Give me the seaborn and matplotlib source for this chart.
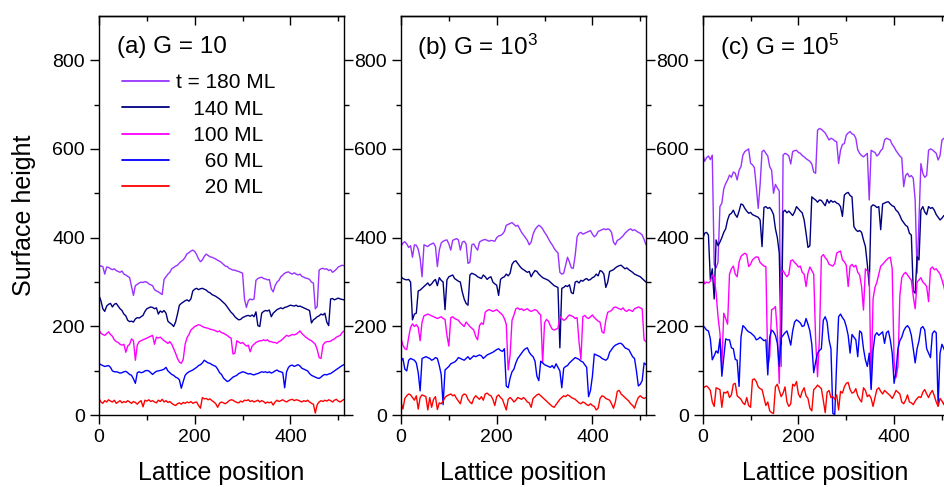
import numpy as np
import pandas as pd
import matplotlib
matplotlib.use("Agg")
import matplotlib.pyplot as plt
import seaborn as sns
from matplotlib.lines import Line2D
from matplotlib.ticker import FixedLocator

# lattice sites at which the surface profiles are sampled
lattice = np.arange(0, 513, 4)
times = ["180", "140", "100", "60", "20"]
legend_labels = ["t = 180 ML", "   140 ML", "   100 ML", "     60 ML", "     20 ML"]
colors = {"180": "#9932FF", "140": "#000080", "100": "#FF00FF",
          "60": "#0000FF", "20": "#FF0000"}
panel_titles = ["(a) G = 10", "(b) G = 10$^{3}$", "(c) G = 10$^{5}$"]
x_ticks = [0, 200, 400]
y_ticks = [0, 200, 400, 600, 800]

# ---- (a) G = 10 ----
a180 = [338, 336, 335, 318, 334, 333, 330, 328, 330, 326, 324, 322, 325, 318, 316, 313,
        310, 290, 270, 292, 295, 298, 300, 299, 301, 300, 296, 294, 292, 283, 280, 278,
        275, 272, 306, 312, 318, 322, 330, 333, 336, 338, 343, 347, 350, 356, 364, 366,
        370, 372, 369, 362, 352, 346, 350, 358, 363, 360, 357, 356, 354, 352, 349, 347,
        344, 340, 336, 335, 331, 329, 327, 327, 325, 324, 322, 320, 262, 243, 258, 262,
        260, 262, 304, 308, 310, 311, 308, 307, 305, 306, 285, 278, 292, 300, 304, 312,
        316, 320, 322, 323, 320, 318, 321, 318, 316, 318, 313, 311, 309, 308, 306, 300,
        298, 240, 245, 327, 330, 331, 329, 330, 326, 328, 322, 325, 329, 334, 336, 338,
        337]
a140 = [270, 258, 240, 234, 246, 250, 252, 244, 250, 252, 246, 240, 236, 228, 224, 214,
        211, 212, 210, 217, 220, 219, 222, 225, 234, 240, 242, 244, 243, 240, 242, 228,
        235, 232, 236, 230, 212, 208, 205, 200, 210, 228, 248, 252, 255, 258, 260, 257,
        262, 280, 284, 286, 283, 285, 286, 284, 282, 278, 276, 272, 270, 268, 265, 262,
        258, 254, 250, 244, 238, 232, 228, 222, 218, 215, 216, 220, 222, 224, 225, 223,
        226, 222, 233, 202, 200, 230, 234, 236, 235, 237, 222, 230, 234, 238, 240, 242,
        240, 243, 244, 246, 248, 247, 246, 248, 245, 246, 244, 242, 240, 238, 236, 208,
        215, 218, 222, 224, 228, 226, 230, 210, 202, 262, 263, 260, 262, 264, 262, 261,
        260]
a100 = [192, 185, 182, 180, 184, 188, 182, 178, 170, 166, 164, 160, 158, 160, 142, 156,
        160, 172, 168, 124, 158, 166, 168, 170, 172, 174, 176, 178, 180, 160, 176, 174,
        176, 172, 168, 165, 162, 166, 160, 150, 140, 128, 120, 117, 126, 160, 175, 182,
        192, 196, 200, 202, 204, 203, 200, 198, 197, 196, 194, 193, 192, 190, 188, 190,
        186, 185, 182, 180, 176, 174, 138, 140, 168, 165, 162, 164, 160, 156, 158, 143,
        156, 160, 164, 166, 168, 168, 170, 168, 170, 166, 166, 164, 164, 162, 166, 168,
        172, 176, 180, 178, 180, 182, 181, 183, 186, 190, 184, 180, 176, 173, 170, 168,
        164, 160, 148, 130, 128, 158, 164, 166, 166, 167, 170, 172, 176, 178, 180, 186,
        190]
a60 = [117, 114, 112, 110, 111, 112, 108, 100, 98, 98, 97, 95, 96, 98, 99, 96,
       92, 90, 82, 72, 96, 98, 96, 97, 100, 101, 100, 96, 92, 96, 99, 100,
       101, 102, 104, 108, 100, 96, 92, 90, 86, 84, 80, 61, 76, 90, 95, 98,
       100, 102, 105, 108, 112, 114, 118, 124, 121, 118, 117, 114, 112, 110, 104, 96,
       92, 84, 80, 76, 78, 82, 86, 88, 90, 94, 96, 98, 97, 95, 93, 94,
       92, 91, 93, 94, 96, 98, 97, 98, 96, 98, 95, 97, 100, 102, 99, 98,
       96, 62, 98, 108, 112, 113, 110, 112, 114, 111, 106, 104, 102, 100, 94, 90,
       88, 86, 84, 83, 86, 90, 92, 91, 93, 94, 97, 100, 103, 106, 109, 112,
       114]
a20 = [38, 30, 27, 33, 30, 35, 32, 30, 34, 27, 30, 33, 28, 31, 29, 33,
       30, 27, 31, 29, 25, 30, 33, 19, 34, 32, 35, 31, 33, 30, 28, 34,
       31, 36, 30, 33, 29, 31, 27, 24, 22, 26, 28, 25, 29, 27, 30, 28,
       31, 27, 29, 30, 22, 16, 40, 37, 38, 35, 37, 33, 30, 26, 18, 27,
       30, 28, 26, 29, 33, 35, 34, 31, 29, 28, 32, 30, 34, 33, 35, 31,
       33, 30, 32, 34, 30, 33, 31, 27, 30, 28, 30, 23, 30, 34, 31, 33,
       35, 32, 30, 33, 35, 36, 33, 35, 34, 32, 30, 33, 31, 34, 30, 27,
       25, 5, 24, 30, 33, 31, 34, 32, 35, 33, 30, 34, 36, 32, 30, 33,
       36]

# ---- (b) G = 10^3 ----
b180 = [380, 388, 391, 386, 378, 382, 356, 384, 383, 374, 353, 312, 384, 382, 380, 384,
        386, 388, 380, 335, 372, 388, 392, 394, 395, 386, 372, 394, 396, 398, 395, 372,
        390, 392, 386, 342, 345, 384, 386, 378, 372, 390, 393, 395, 396, 394, 392, 394,
        393, 392, 400, 404, 405, 408, 414, 428, 430, 432, 434, 430, 426, 428, 420, 412,
        406, 400, 394, 384, 390, 408, 418, 424, 428, 425, 420, 412, 406, 398, 390, 384,
        376, 370, 366, 322, 318, 320, 338, 356, 345, 332, 331, 360, 402, 410, 412, 408,
        410, 412, 414, 416, 408, 402, 406, 414, 416, 418, 420, 418, 420, 418, 412, 390,
        384, 394, 396, 400, 404, 410, 414, 418, 420, 416, 418, 415, 412, 410, 406, 396,
        384]
b140 = [312, 308, 306, 305, 306, 300, 215, 228, 230, 280, 282, 286, 290, 294, 298, 292,
        296, 302, 306, 292, 310, 304, 300, 238, 305, 312, 314, 316, 308, 305, 302, 300,
        278, 262, 252, 248, 316, 320, 318, 316, 312, 310, 308, 316, 312, 306, 310, 312,
        300, 296, 293, 270, 306, 310, 312, 318, 314, 320, 340, 346, 348, 342, 336, 331,
        328, 325, 322, 324, 312, 320, 326, 324, 318, 314, 310, 308, 306, 304, 300, 296,
        292, 290, 288, 152, 286, 288, 292, 290, 294, 276, 274, 300, 302, 298, 304, 302,
        306, 308, 304, 306, 310, 312, 318, 314, 326, 324, 318, 288, 300, 324, 326, 328,
        332, 335, 337, 338, 334, 330, 332, 328, 325, 322, 318, 316, 314, 312, 308, 304,
        300]
b100 = [173, 158, 150, 148, 176, 198, 206, 200, 204, 198, 168, 210, 224, 226, 228, 226,
        224, 222, 220, 218, 220, 222, 218, 216, 180, 156, 220, 222, 218, 216, 214, 208,
        204, 200, 210, 205, 200, 196, 192, 178, 170, 202, 208, 205, 232, 236, 238, 236,
        234, 236, 238, 234, 230, 226, 218, 205, 102, 136, 214, 226, 240, 242, 238, 240,
        236, 238, 240, 236, 234, 236, 238, 236, 230, 226, 118, 208, 216, 212, 202, 194,
        192, 194, 196, 222, 218, 214, 216, 222, 226, 224, 222, 218, 220, 166, 126, 222,
        225, 220, 218, 222, 226, 220, 216, 212, 210, 188, 185, 214, 232, 234, 236, 242,
        244, 242, 240, 238, 242, 236, 234, 238, 236, 234, 240, 242, 244, 242, 240, 170,
        166]
b60 = [122, 128, 104, 100, 124, 128, 126, 124, 118, 96, 55, 128, 130, 132, 130, 128,
       124, 126, 130, 128, 112, 92, 24, 102, 106, 110, 116, 118, 120, 124, 130, 128,
       126, 124, 128, 132, 126, 130, 134, 132, 134, 136, 134, 128, 132, 136, 138, 140,
       142, 145, 148, 150, 146, 144, 150, 66, 62, 84, 98, 104, 118, 128, 134, 140,
       146, 150, 152, 142, 136, 132, 122, 88, 78, 122, 118, 114, 112, 110, 108, 112,
       106, 116, 108, 100, 62, 106, 110, 112, 118, 122, 126, 130, 128, 126, 122, 120,
       114, 108, 42, 56, 88, 138, 136, 134, 132, 128, 126, 124, 128, 142, 148, 154,
       158, 160, 162, 162, 158, 152, 150, 148, 140, 132, 128, 100, 66, 70, 78, 118,
       114]
b20 = [30, 14, 38, 44, 48, 46, 40, 34, 44, 14, 40, 46, 44, 42, 12, 40,
       18, 36, 42, 13, 28, 26, 32, 40, 44, 46, 48, 44, 46, 38, 32, 26,
       44, 48, 46, 36, 30, 26, 38, 44, 40, 36, 42, 34, 48, 50, 46, 44,
       36, 22, 42, 46, 40, 36, 24, 12, 36, 40, 36, 30, 34, 40, 38, 36,
       40, 36, 30, 28, 18, 38, 42, 46, 48, 44, 40, 36, 32, 28, 24, 20,
       18, 24, 30, 36, 40, 44, 42, 46, 44, 40, 38, 36, 32, 28, 26, 30,
       28, 24, 22, 26, 22, 20, 12, 16, 38, 44, 42, 38, 36, 34, 26, 16,
       30, 54, 56, 48, 44, 40, 36, 32, 26, 22, 16, 30, 40, 44, 40, 38,
       40]

# ---- (c) G = 10^5 ----
c180 = [590, 572, 580, 584, 576, 586, 340, 332, 345, 470, 478, 510, 522, 530, 541, 536,
        548, 545, 530, 552, 560, 586, 594, 597, 600, 568, 564, 558, 515, 466, 520, 594,
        597, 590, 584, 560, 552, 500, 520, 512, 505, 110, 586, 590, 588, 584, 566, 594,
        596, 597, 592, 590, 585, 582, 578, 575, 572, 566, 548, 545, 642, 646, 644, 640,
        636, 628, 620, 624, 622, 618, 616, 567, 597, 610, 612, 631, 636, 639, 634, 632,
        624, 598, 590, 585, 582, 586, 590, 485, 597, 594, 592, 584, 588, 596, 600, 620,
        624, 622, 620, 610, 604, 596, 590, 584, 580, 515, 540, 545, 537, 540, 534, 485,
        320, 440, 567, 545, 536, 540, 597, 600, 598, 594, 590, 575, 585, 620, 624, 618,
        622]
c140 = [398, 410, 412, 406, 305, 330, 262, 395, 382, 390, 400, 412, 420, 440, 452, 455,
        462, 452, 446, 460, 476, 474, 466, 460, 455, 457, 452, 450, 448, 446, 440, 380,
        468, 470, 466, 468, 462, 452, 420, 400, 365, 160, 458, 462, 456, 460, 455, 450,
        458, 470, 465, 460, 456, 440, 410, 378, 382, 492, 488, 485, 480, 485, 484, 478,
        472, 486, 478, 484, 480, 482, 478, 476, 470, 448, 496, 500, 502, 495, 492, 425,
        418, 414, 416, 412, 395, 380, 340, 292, 470, 474, 472, 468, 470, 418, 476, 478,
        480, 481, 476, 472, 470, 462, 458, 450, 440, 434, 428, 425, 410, 406, 280, 275,
        357, 350, 462, 470, 458, 452, 470, 466, 468, 462, 452, 446, 440, 444, 450, 448,
        452]
c100 = [310, 296, 300, 298, 302, 316, 312, 275, 222, 185, 110, 230, 218, 205, 318, 330,
        336, 318, 312, 345, 358, 362, 365, 362, 335, 340, 350, 354, 357, 356, 344, 340,
        336, 335, 110, 132, 238, 240, 245, 185, 72, 320, 326, 318, 312, 318, 348, 350,
        344, 340, 334, 336, 322, 318, 290, 320, 334, 326, 318, 170, 87, 175, 357, 362,
        355, 350, 340, 338, 336, 342, 365, 368, 370, 350, 346, 338, 290, 336, 340, 334,
        338, 322, 316, 290, 237, 330, 325, 320, 62, 262, 288, 300, 318, 336, 340, 345,
        350, 354, 356, 330, 120, 85, 110, 270, 310, 318, 322, 316, 310, 304, 268, 240,
        300, 305, 310, 300, 296, 290, 256, 330, 334, 328, 330, 324, 318, 305, 290, 270,
        285]
c60 = [203, 198, 192, 190, 172, 125, 134, 145, 140, 172, 88, 130, 172, 170, 170, 152,
       150, 126, 124, 65, 176, 202, 198, 192, 188, 186, 182, 178, 170, 172, 176, 172,
       168, 170, 91, 176, 192, 188, 180, 162, 110, 175, 180, 186, 190, 175, 158, 190,
       210, 215, 212, 208, 200, 202, 218, 205, 190, 160, 96, 120, 140, 146, 150, 214,
       222, 210, 170, 150, 4, 2, 120, 222, 228, 220, 214, 200, 180, 140, 182, 176,
       170, 132, 190, 186, 150, 125, 110, 140, 58, 146, 180, 186, 180, 184, 188, 162,
       186, 190, 170, 140, 72, 100, 150, 168, 176, 190, 198, 202, 196, 180, 150, 118,
       150, 168, 196, 200, 192, 150, 140, 130, 184, 190, 186, 22, 140, 160, 150, 140,
       160]
c20 = [60, 64, 66, 62, 56, 30, 20, 62, 60, 58, 18, 52, 50, 54, 40, 46,
       70, 72, 44, 40, 36, 28, 24, 40, 22, 18, 80, 82, 76, 64, 60, 58,
       40, 22, 30, 10, 6, 4, 64, 70, 56, 42, 50, 64, 30, 20, 26, 70,
       66, 76, 48, 40, 54, 62, 44, 38, 16, 10, 58, 62, 68, 64, 60, 34,
       6, 52, 56, 40, 42, 36, 46, 12, 54, 50, 64, 72, 74, 58, 50, 52,
       60, 44, 36, 30, 62, 56, 42, 46, 38, 20, 40, 58, 62, 54, 48, 56,
       52, 48, 44, 38, 46, 56, 52, 48, 30, 26, 34, 46, 30, 28, 24, 32,
       38, 42, 40, 52, 58, 48, 40, 50, 56, 44, 30, 20, 38, 32, 24, 40,
       36]

panels = [
    {"180": a180, "140": a140, "100": a100, "60": a60, "20": a20},
    {"180": b180, "140": b140, "100": b100, "60": b60, "20": b20},
    {"180": c180, "140": c140, "100": c100, "60": c60, "20": c20},
]

sns.set_style("ticks")
plt.rcParams["font.family"] = ["Liberation Sans", "DejaVu Sans"]
plt.rcParams["mathtext.default"] = "regular"
plt.rcParams["axes.linewidth"] = 1.0
for key in ("text.color", "axes.labelcolor", "xtick.color", "ytick.color",
            "axes.edgecolor"):
    plt.rcParams[key] = "black"

fig = plt.figure(figsize=(9.45, 4.87), dpi=100)
bottom, height, width = 0.14723, 0.82053, 0.25926
lefts = [0.10476, 0.42434, 0.74360]
title_x = [0.0735, 0.0665, 0.0706]

axes = []
for k, profiles in enumerate(panels):
    ax = fig.add_axes([lefts[k], bottom, width, height])
    df = pd.DataFrame({
        "pos": np.tile(lattice, len(times)),
        "height": np.concatenate([profiles[t] for t in times]),
        "t": np.repeat(times, len(lattice)),
    })
    sns.lineplot(data=df, x="pos", y="height", hue="t", hue_order=times,
                 palette=colors, estimator=None, sort=False, lw=1.0,
                 legend=False, ax=ax)
    ax.set_xlim(0, 512)
    ax.set_ylim(0, 900)
    ax.xaxis.set_major_locator(FixedLocator(x_ticks))
    ax.xaxis.set_minor_locator(FixedLocator([100, 300, 500]))
    ax.yaxis.set_major_locator(FixedLocator(y_ticks))
    ax.yaxis.set_minor_locator(FixedLocator([100, 300, 500, 700]))
    ax.tick_params(axis="both", which="major", direction="out", length=6.5,
                   width=1.0, labelsize=14, pad=3.5, colors="black")
    ax.tick_params(axis="both", which="minor", direction="out", length=3.5,
                   width=1.0)
    ax.tick_params(axis="y", which="both", left=True, right=True)
    for sp in ax.spines.values():
        sp.set_visible(True)
        sp.set_color("black")
    top = ax.secondary_xaxis("top")
    top.xaxis.set_major_locator(FixedLocator(x_ticks))
    top.xaxis.set_minor_locator(FixedLocator([100, 300, 500]))
    top.tick_params(axis="x", which="major", direction="in", length=6.5,
                    width=1.0, labeltop=False)
    top.tick_params(axis="x", which="minor", direction="in", length=3.5,
                    width=1.0)
    ax.set_xlabel("Lattice position", fontsize=18, labelpad=11)
    ax.set_ylabel("Surface height" if k == 0 else "", fontsize=18, labelpad=12)
    ax.text(title_x[k], 0.9224, panel_titles[k], transform=ax.transAxes,
            ha="left", va="center", fontsize=17.5)
    axes.append(ax)

handles = [Line2D([], [], color=colors[t], lw=1.3) for t in times]
axes[0].legend(handles=handles, labels=legend_labels, loc="upper left",
               bbox_to_anchor=(0.0927, 0.856), frameon=False,
               fontsize=15, handlelength=2.29, handletextpad=0.31,
               labelspacing=0.35, borderpad=0, borderaxespad=0)

fig.savefig("out.png", dpi=100)
